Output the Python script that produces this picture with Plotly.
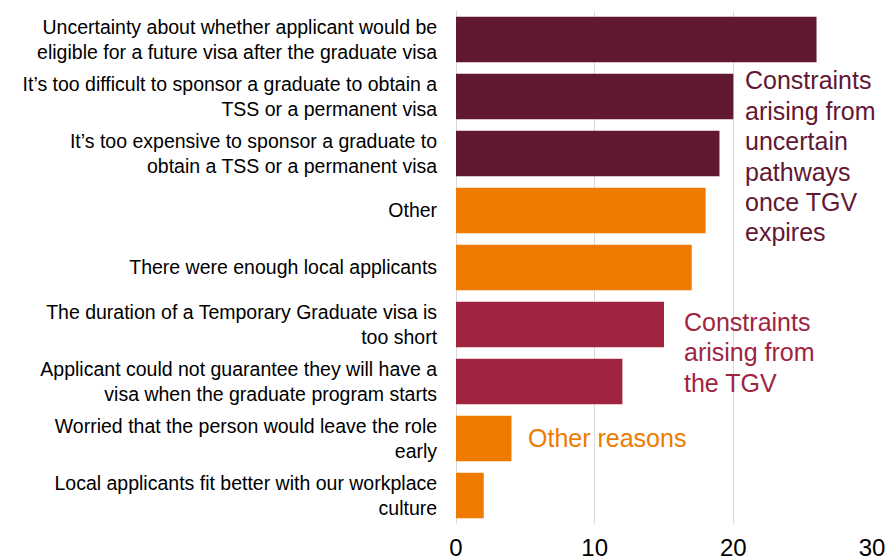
import plotly.graph_objects as go

categories = [
    "Uncertainty about whether applicant would be<br>eligible for a future visa after the graduate visa",
    "It’s too difficult to sponsor a graduate to obtain a<br>TSS or a permanent visa",
    "It’s too expensive to sponsor a graduate to<br>obtain a TSS or a permanent visa",
    "Other",
    "There were enough local applicants",
    "The duration of a Temporary Graduate visa is<br>too short",
    "Applicant could not guarantee they will have a<br>visa when the graduate program starts",
    "Worried that the person would leave the role<br>early",
    "Local applicants fit better with our workplace<br>culture",
]
values = [26, 20, 19, 18, 17, 15, 12, 4, 2]
groups = ["pathways", "pathways", "pathways", "other", "other", "tgv", "tgv", "other", "other"]

MAROON = "#621733"
CRIMSON = "#A0243F"
ORANGE = "#EE7A00"
color_map = {"pathways": MAROON, "tgv": CRIMSON, "other": ORANGE}
colors = [color_map[g] for g in groups]

fig = go.Figure(go.Bar(
    x=values, y=categories, orientation="h",
    marker=dict(color=colors, line=dict(width=0)),
    hoverinfo="x+y",
))

FONT = "Arial"
fig.update_layout(
    width=887, height=558,
    margin=dict(l=456, r=15, t=11, b=34),
    paper_bgcolor="white", plot_bgcolor="white",
    bargap=0.2,
    showlegend=False,
    font=dict(family=FONT, color="#000000"),
    xaxis=dict(range=[0, 30], tickvals=[0, 10, 20, 30], showgrid=True,
               gridcolor="#D9D9D9", gridwidth=1, zeroline=True,
               zerolinecolor="#D9D9D9", zerolinewidth=1,
               tickfont=dict(size=24, color="#000000"), showline=False,
               ticks="outside", ticklen=2, tickcolor="rgba(0,0,0,0)",
               automargin=False),
    yaxis=dict(categoryorder="array", categoryarray=categories,
               autorange="reversed", tickfont=dict(size=19.5, color="#000000"),
               ticks="outside", ticklen=14, tickcolor="rgba(0,0,0,0)",
               showline=False, showgrid=False, automargin=False),
)

# group labels: (x, y-centre, lines, colour)
blocks = [
    (20.7, 2.05, ["Constraints", "arising from", "uncertain", "pathways", "once TGV", "expires"], MAROON),
    (16.3, 5.49, ["Constraints", "arising from", "the TGV"], CRIMSON),
    (5.06, 6.99, ["Other reasons"], ORANGE),
]
LINE_H = 30.4
for x, y, lines, c in blocks:
    n = len(lines)
    for k, line in enumerate(lines):
        fig.add_annotation(x=x, y=y, xref="x", yref="y", text=line, showarrow=False,
                           xanchor="left", yanchor="middle", align="left",
                           yshift=-(k - (n - 1) / 2) * LINE_H,
                           font=dict(size=25, color=c, family=FONT))

fig.write_html("out.html")
